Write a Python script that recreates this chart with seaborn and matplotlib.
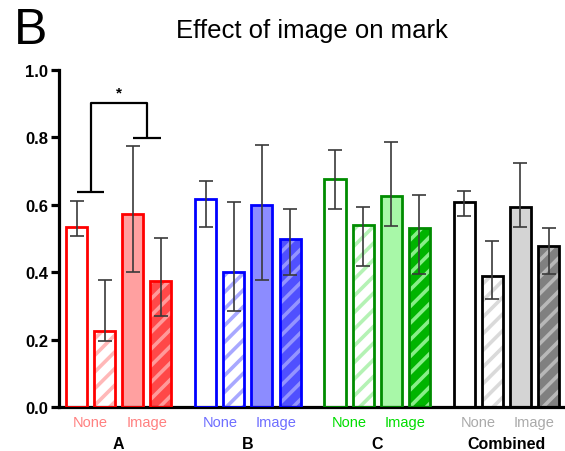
import numpy as np
import pandas as pd
import matplotlib
matplotlib.use("Agg")
import matplotlib.pyplot as plt
import seaborn as sns

# ---- data ----
groups = ["A", "B", "C", "Combined"]
conditions = ["None", "Image"]
bar_kinds = ["None", "None (hatched)", "Image", "Image (hatched)"]

means_A = [0.534, 0.225, 0.573, 0.374]
low_A = [0.507, 0.196, 0.401, 0.270]
high_A = [0.611, 0.377, 0.774, 0.501]

means_B = [0.617, 0.400, 0.599, 0.499]
low_B = [0.534, 0.285, 0.377, 0.392]
high_B = [0.671, 0.608, 0.777, 0.588]

means_C = [0.677, 0.540, 0.627, 0.530]
low_C = [0.588, 0.419, 0.537, 0.395]
high_C = [0.763, 0.593, 0.787, 0.629]

means_Comb = [0.608, 0.389, 0.594, 0.478]
low_Comb = [0.567, 0.320, 0.534, 0.395]
high_Comb = [0.641, 0.493, 0.724, 0.531]

yticks = [0.0, 0.2, 0.4, 0.6, 0.8, 1.0]
sig_label = "*"
title = "Effect of image on mark"
panel = "B"

# ---- styles ----
styles = {
    "A": dict(edge="#FF0000", fill="#FFA0A0", nh="#FFB8B8", hf="#FF4848", hh="#FF9A9A", lab="#FF8080"),
    "B": dict(edge="#0000FF", fill="#8C8CFF", nh="#A8A8FF", hf="#5050FF", hh="#9494FF", lab="#6E6EFF"),
    "C": dict(edge="#008C00", fill="#A8F8A8", nh="#B4F2B4", hf="#00B400", hh="#88EE88", lab="#00DD00"),
    "Combined": dict(edge="#000000", fill="#D4D4D4", nh="#DADADA", hf="#808080", hh="#B8B8B8", lab="#AAAAAA"),
}

sns.set_theme(style="ticks")
plt.rcParams["font.family"] = ["Liberation Sans", "DejaVu Sans"]
plt.rcParams["hatch.linewidth"] = 2.6
plt.rcParams["text.color"] = "black"
plt.rcParams["ytick.color"] = "black"
plt.rcParams["xtick.color"] = "black"

all_means = [means_A, means_B, means_C, means_Comb]
all_low = [low_A, low_B, low_C, low_Comb]
all_high = [high_A, high_B, high_C, high_Comb]

group_step = 4.6
rows = []
for g, name in enumerate(groups):
    for i, kind in enumerate(bar_kinds):
        rows.append(dict(group=name, kind=kind, pos=g * group_step + i,
                         value=all_means[g][i], low=all_low[g][i], high=all_high[g][i]))
df = pd.DataFrame(rows)

fig = plt.figure(figsize=(5.65, 4.52), dpi=100)
ax = fig.add_axes([59 / 565, 1 - 408 / 452, (565 - 59) / 565, (408 - 71) / 452])

# fills + hatches
sns.barplot(data=df, x="pos", y="value", native_scale=True, width=0.75,
            errorbar=None, color="white", ax=ax)
fill_patches = list(ax.patches)
for p, (_, r) in zip(fill_patches, df.iterrows()):
    st = styles[r["group"]]
    k = r["kind"]
    p.set_linewidth(0)
    if k == "None":
        p.set_facecolor("white")
        p.set_edgecolor("white")
    elif k == "None (hatched)":
        p.set_facecolor("white")
        p.set_edgecolor(st["nh"])
        p.set_hatch("//")
    elif k == "Image":
        p.set_facecolor(st["fill"])
        p.set_edgecolor(st["fill"])
    else:
        p.set_facecolor(st["hf"])
        p.set_edgecolor(st["hh"])
        p.set_hatch("//")
    p.set_zorder(2)

# outlines
n_before = len(ax.patches)
sns.barplot(data=df, x="pos", y="value", native_scale=True, width=0.75,
            errorbar=None, fill=False, color="black", ax=ax)
for p, (_, r) in zip(ax.patches[n_before:], df.iterrows()):
    p.set_edgecolor(styles[r["group"]]["edge"])
    p.set_facecolor("none")
    p.set_linewidth(2.0)
    p.set_zorder(3)

# error bars (asymmetric)
yerr = np.vstack([df["value"] - df["low"], df["high"] - df["value"]])
ax.errorbar(df["pos"], df["value"], yerr=yerr, fmt="none", ecolor="#3a3a3a",
            elinewidth=1.2, capsize=5, capthick=1.2, zorder=4)

# significance bracket
lx = df["pos"].iloc[0:2].mean()
rx = df["pos"].iloc[2:4].mean()
ly, ry, ty = 0.637, 0.798, 0.902
bk = dict(color="black", lw=1.6, solid_capstyle="butt", zorder=5, clip_on=False)
ax.plot([lx - 0.48, lx + 0.48], [ly, ly], **bk)
ax.plot([lx, lx, rx, rx], [ly, ty, ty, ry], **bk)
ax.plot([rx - 0.5, rx + 0.5], [ry, ry], **bk)
ax.text((lx + rx) / 2, 0.912, sig_label, ha="center", va="bottom", fontsize=11,
        fontweight="bold", color="black")

# axes styling
x0 = df["pos"].iloc[0]
ax.set_xlim(x0 - 17.5 / 28.1, x0 + (565 - 76.5) / 28.1)
ax.set_ylim(0, 1.0)
ax.set_yticks(yticks)
ax.set_yticklabels([f"{t:.1f}" for t in yticks], fontweight="bold", fontsize=12,
                   color="black")
ax.set_xticks([])
ax.set_xlabel("")
ax.set_ylabel("")
for s in ["top", "right"]:
    ax.spines[s].set_visible(False)
for s in ["left", "bottom"]:
    ax.spines[s].set_linewidth(2.3)
    ax.spines[s].set_color("black")
ax.tick_params(axis="y", length=6, width=2.3, pad=2, colors="black")
ax.patch.set_alpha(0)

# category labels
trans = matplotlib.transforms.blended_transform_factory(ax.transData, ax.transAxes)
for g, name in enumerate(groups):
    sub = df[df["group"] == name]
    st = styles[name]
    for c, cond in enumerate(conditions):
        cx = sub["pos"].iloc[2 * c:2 * c + 2].mean()
        ax.text(cx, -0.045, cond, transform=trans, ha="center", va="center",
                fontsize=10.5, color=st["lab"])
    ax.text(sub["pos"].mean(), -0.108, name, transform=trans, ha="center",
            va="center", fontsize=11.5, fontweight="bold", color="black")

fig.text(312 / 565, 1 - 31 / 452, title, ha="center", va="center", fontsize=18.5,
         color="black")
fig.text(14 / 565, 1 - 31 / 452, panel, ha="left", va="center", fontsize=36,
         color="black")

fig.savefig("out.png", dpi=100)
